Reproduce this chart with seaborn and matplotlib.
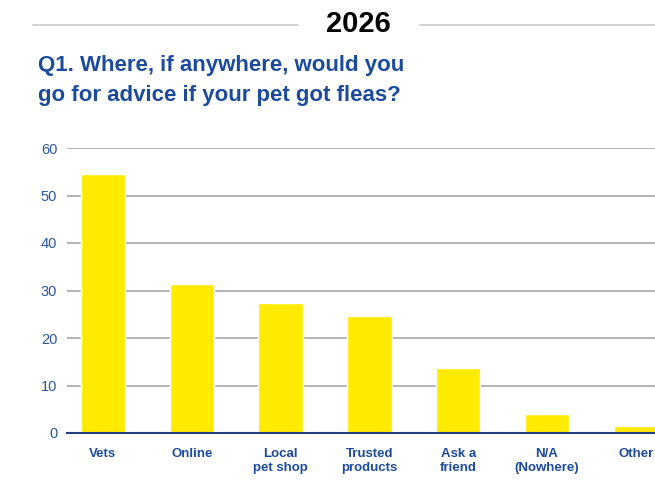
import matplotlib
matplotlib.use("Agg")
import matplotlib.pyplot as plt
import seaborn as sns
import pandas as pd

categories = ["Vets", "Online", "Local\npet shop", "Trusted\nproducts",
              "Ask a\nfriend", "N/A\n(Nowhere)", "Other"]
values = [54.5, 31.3, 27.3, 24.6, 13.6, 4.1, 1.4]
y_ticks = [0, 10, 20, 30, 40, 50, 60]

year_label = "2026"
question_lines = ["Q1. Where, if anywhere, would you",
                  "go for advice if your pet got fleas?"]

YELLOW = "#FFEB00"
TITLE_BLUE = "#1C4B9B"
TICK_BLUE = "#2A56A0"
GRID = "#A8A8A8"
AXIS_BLUE = "#1F3F7F"

sns.set_theme(style="white")
plt.rcParams["font.family"] = ["Liberation Sans", "DejaVu Sans"]

df = pd.DataFrame({"source": categories, "share": values})

W, H = 655, 504
fig = plt.figure(figsize=(W / 100, H / 100), dpi=100)
ax = fig.add_axes([67 / W, (H - 433) / H, 1 - 67 / W, (433 - 148) / H])

sns.barplot(data=df, x="source", y="share", color=YELLOW, width=0.5,
            saturation=1, ax=ax, zorder=3)

ax.set_xlim(-0.405, 6.216)
ax.set_ylim(0, 60)
ax.set_yticks(y_ticks)
ax.set_xlabel("")
ax.set_ylabel("")
ax.yaxis.grid(True, color=GRID, linewidth=1.2, zorder=0)
ax.xaxis.grid(False)
for side in ["top", "right", "left"]:
    ax.spines[side].set_visible(False)
ax.spines["bottom"].set_color(AXIS_BLUE)
ax.spines["bottom"].set_linewidth(1.5)
ax.spines["bottom"].set_zorder(4)

ax.tick_params(axis="y", length=0, pad=7, labelsize=10.5, labelcolor=TICK_BLUE)
ax.tick_params(axis="x", length=0, pad=10.5, labelsize=9.5, labelcolor=TITLE_BLUE)
for lab in ax.get_xticklabels():
    lab.set_fontweight("bold")
    lab.set_linespacing(1.25)

# year heading with rules either side
fig.text(358.5 / W, 1 - 24 / H, year_label, ha="center", va="center",
         fontsize=21, fontweight="bold", color="black")
fig.add_artist(plt.Line2D([33 / W, 298 / W], [1 - 25 / H] * 2,
                          color="#C8C8C8", linewidth=1.2))
fig.add_artist(plt.Line2D([420 / W, 1.0], [1 - 25 / H] * 2,
                          color="#C8C8C8", linewidth=1.2))

for line, base in zip(question_lines, [71.5, 100.5]):
    fig.text(38 / W, 1 - base / H, line, ha="left", va="baseline",
             fontsize=16, fontweight="bold", color=TITLE_BLUE)

fig.savefig("out.png", dpi=100)
